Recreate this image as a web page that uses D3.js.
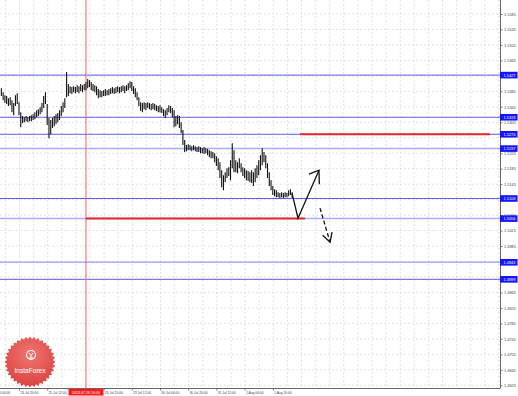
<!DOCTYPE html>
<html>
<head>
<meta charset="utf-8">
<script src="https://cdn.jsdelivr.net/npm/d3@7/dist/d3.min.js"></script>
<style>
  body { margin: 0; background: #fff; }
  svg { display: block; font-family: "Liberation Sans", Arial, sans-serif; }
</style>
</head>
<body>
<script>
// hourly bars, index 0 = 24 Jul 04:00 (first bar drawn is index 6)
const firstBar = 6;
const barHigh = [
  1.5393, 1.5383, 1.5375, 1.5373, 1.5367, 1.5370, 1.5362, 1.5355, 1.5375, 1.5380,
  1.5357, 1.5331, 1.5321, 1.5318, 1.5321, 1.5318, 1.5321, 1.5323, 1.5326, 1.5331,
  1.5336, 1.5339, 1.5344, 1.5355, 1.5373, 1.5383, 1.5352, 1.5316, 1.5311, 1.5316,
  1.5321, 1.5326, 1.5329, 1.5336, 1.5347, 1.5357, 1.5367, 1.5435, 1.5404, 1.5398,
  1.5396, 1.5398, 1.5396, 1.5401, 1.5398, 1.5404, 1.5401, 1.5404, 1.5409, 1.5417,
  1.5414, 1.5409, 1.5404, 1.5401, 1.5398, 1.5391, 1.5388, 1.5386, 1.5388, 1.5391,
  1.5388, 1.5391, 1.5393, 1.5396, 1.5393, 1.5396, 1.5398, 1.5396, 1.5398, 1.5401,
  1.5398, 1.5401, 1.5406, 1.5411, 1.5409, 1.5398, 1.5393, 1.5383, 1.5370, 1.5357,
  1.5355, 1.5357, 1.5355, 1.5357, 1.5355, 1.5352, 1.5355, 1.5352, 1.5349, 1.5347,
  1.5349, 1.5344, 1.5339, 1.5336, 1.5342, 1.5349, 1.5347, 1.5342, 1.5336, 1.5321,
  1.5323, 1.5321, 1.5305, 1.5285, 1.5259, 1.5246, 1.5248, 1.5246, 1.5243, 1.5246,
  1.5243, 1.5241, 1.5243, 1.5241, 1.5238, 1.5241, 1.5238, 1.5236, 1.5233, 1.5230,
  1.5228, 1.5225, 1.5217, 1.5212, 1.5202, 1.5181, 1.5168, 1.5176, 1.5186, 1.5189,
  1.5207, 1.5251, 1.5233, 1.5207, 1.5202, 1.5212, 1.5199, 1.5189, 1.5186, 1.5181,
  1.5179, 1.5176, 1.5181, 1.5176, 1.5186, 1.5194, 1.5207, 1.5220, 1.5238, 1.5228,
  1.5220, 1.5199, 1.5176, 1.5155, 1.5140, 1.5132, 1.5129, 1.5124, 1.5122, 1.5124,
  1.5122, 1.5124, 1.5122, 1.5129, 1.5132, 1.5124
];
const barLow = [
  1.5373, 1.5362, 1.5355, 1.5352, 1.5347, 1.5349, 1.5331, 1.5323, 1.5347, 1.5352,
  1.5323, 1.5292, 1.5303, 1.5305, 1.5308, 1.5305, 1.5308, 1.5308, 1.5311, 1.5313,
  1.5318, 1.5321, 1.5326, 1.5331, 1.5342, 1.5352, 1.5298, 1.5264, 1.5274, 1.5290,
  1.5295, 1.5300, 1.5305, 1.5311, 1.5321, 1.5331, 1.5342, 1.5370, 1.5373, 1.5380,
  1.5378, 1.5383, 1.5380, 1.5383, 1.5380, 1.5386, 1.5383, 1.5388, 1.5388, 1.5393,
  1.5396, 1.5388, 1.5386, 1.5383, 1.5375, 1.5367, 1.5370, 1.5370, 1.5373, 1.5373,
  1.5375, 1.5375, 1.5378, 1.5380, 1.5378, 1.5380, 1.5383, 1.5380, 1.5383, 1.5386,
  1.5380, 1.5386, 1.5388, 1.5393, 1.5386, 1.5378, 1.5370, 1.5362, 1.5347, 1.5334,
  1.5331, 1.5339, 1.5336, 1.5342, 1.5339, 1.5336, 1.5339, 1.5336, 1.5334, 1.5331,
  1.5331, 1.5329, 1.5321, 1.5316, 1.5323, 1.5331, 1.5329, 1.5318, 1.5292, 1.5295,
  1.5300, 1.5290, 1.5277, 1.5246, 1.5228, 1.5230, 1.5233, 1.5233, 1.5230, 1.5233,
  1.5230, 1.5228, 1.5228, 1.5225, 1.5225, 1.5223, 1.5225, 1.5220, 1.5215, 1.5212,
  1.5212, 1.5202, 1.5192, 1.5181, 1.5161, 1.5137, 1.5129, 1.5150, 1.5161, 1.5166,
  1.5155, 1.5186, 1.5176, 1.5176, 1.5173, 1.5186, 1.5176, 1.5166, 1.5161, 1.5155,
  1.5153, 1.5150, 1.5148, 1.5140, 1.5150, 1.5161, 1.5168, 1.5181, 1.5194, 1.5202,
  1.5186, 1.5161, 1.5140, 1.5129, 1.5117, 1.5114, 1.5111, 1.5111, 1.5109, 1.5111,
  1.5109, 1.5111, 1.5111, 1.5114, 1.5117, 1.5109
];

// regular price ticks (ticks hidden under the level tags are left out)
const priceTicks = [
  1.5585, 1.5545, 1.5505, 1.5465, 1.5385, 1.5345, 1.5305, 1.5225,
  1.5185, 1.5145, 1.5065, 1.5025, 1.4985, 1.4905, 1.4865, 1.4825,
  1.4785, 1.4745, 1.4705, 1.4665, 1.4625
];
const gridPrices = [
  1.5585, 1.5545, 1.5505, 1.5465, 1.5425, 1.5385, 1.5345, 1.5305, 1.5265, 1.5225,
  1.5185, 1.5145, 1.5105, 1.5065, 1.5025, 1.4985, 1.4945, 1.4905, 1.4865, 1.4825,
  1.4785, 1.4745, 1.4705, 1.4665, 1.4625
];
const timeTickBars = [0, 16, 32, 64, 80, 96, 112, 128, 144, 160];
const timeTickLabels = [
  '24 Jul 04:00', '24 Jul 20:00', '25 Jul 12:00', '26 Jul 20:00',
  '29 Jul 12:00', '30 Jul 04:00', '30 Jul 20:00', '31 Jul 12:00', '1 Aug 04:00', '1 Aug 20:00'
];

// horizontal levels
const levelPrices = [1.5427, 1.5318, 1.5274, 1.5237, 1.5108, 1.5056, 1.4943, 1.4899];
const levelLight = [false, false, false, true, false, true, true, false];
const levelLabels = ['1.5427', '1.5318', '1.5274', '1.5237', '1.5108', '1.5056', '1.4943', '1.4899'];

const markerBar = 54;
const markerLabel = '2013.07.26 10:00';
const redFrom = [54, 175.4];
const redTo = [178.3, 283.2];
const redPrice = [1.5056, 1.5274];

const upArrow = [[170.9, 1.5122], [174.3, 1.5057], [186.2, 1.5181]];
const upHead = [[180.5, 1.5171], [186.2, 1.5181], [186.4, 1.5145]];
const downArrow = [[186.8, 1.5083], [192.5, 1.4995]];
const downHead = [[188.3, 1.5013], [192.5, 1.4995], [193.6, 1.5021]];

const W = 518, H = 396;
const plotR = 500, plotB = 388;

const svg = d3.select('body').append('svg').attr('width', W).attr('height', H);

const x = d3.scaleLinear().domain([0, 160]).range([-9.2, 272.8]);
const y = d3.scaleLinear().domain([1.4625, 1.5585]).range([385.3, 14]);

svg.append('defs').append('clipPath').attr('id', 'plot')
  .append('rect').attr('x', 0).attr('y', 0).attr('width', plotR).attr('height', plotB);

const plot = svg.append('g').attr('clip-path', 'url(#plot)');

// grid
const gridBars = d3.range(0, 296, 8);
plot.selectAll('.vgrid').data(gridBars).enter().append('line')
  .attr('x1', (d) => x(d) + 0.5).attr('x2', (d) => x(d) + 0.5)
  .attr('y1', 0).attr('y2', plotB)
  .attr('stroke', '#d6d6d6').attr('stroke-width', 0.7).attr('stroke-dasharray', '2,2');
plot.selectAll('.hgrid').data(gridPrices).enter().append('line')
  .attr('x1', 0).attr('x2', plotR)
  .attr('y1', (d) => y(d)).attr('y2', (d) => y(d))
  .attr('stroke', '#d6d6d6').attr('stroke-width', 0.7).attr('stroke-dasharray', '2,2');

// logo badge
const logo = svg.append('g').attr('transform', 'translate(30,362)');
const grad = svg.select('defs').append('radialGradient').attr('id', 'lg')
  .attr('cx', '50%').attr('cy', '35%').attr('r', '65%');
grad.append('stop').attr('offset', '0%').attr('stop-color', '#f06a66');
grad.append('stop').attr('offset', '100%').attr('stop-color', '#d7322f');
const teeth = 36;
const starPts = d3.range(teeth * 2).map((k) => {
  const a = (k / (teeth * 2)) * Math.PI * 2;
  const r = k % 2 === 0 ? 25.5 : 23;
  return [Math.cos(a) * r, Math.sin(a) * r];
});
logo.append('polygon').attr('points', starPts.map((p) => p.join(',')).join(' '))
  .attr('fill', 'url(#lg)').attr('opacity', 0.92);
logo.append('circle').attr('cx', 1).attr('cy', -7).attr('r', 4.5)
  .attr('fill', 'none').attr('stroke', '#fff').attr('stroke-width', 1.1);
logo.append('path').attr('d', 'M-1,-9 L1,-6.5 L3,-9 M1,-6.5 L1,-3.5 M-1.5,-4 L3.5,-4')
  .attr('stroke', '#fff').attr('stroke-width', 1).attr('fill', 'none');
logo.append('text').attr('x', 0).attr('y', 11).attr('text-anchor', 'middle')
  .attr('fill', '#fff').style('font-size', '6.6px').text('InstaForex');

// level lines
plot.selectAll('.level').data(levelPrices).enter().append('line')
  .attr('x1', 0).attr('x2', plotR)
  .attr('y1', (d) => y(d)).attr('y2', (d) => y(d))
  .attr('stroke', (d, i) => (levelLight[i] ? '#a9acff' : '#5b5bf0'))
  .attr('stroke-width', (d, i) => (levelLight[i] ? 1.5 : 1));

// red vertical marker
plot.append('line')
  .attr('x1', x(markerBar)).attr('x2', x(markerBar))
  .attr('y1', 0).attr('y2', plotB)
  .attr('stroke', '#ff5a5a').attr('stroke-width', 1);

// red horizontal segments
plot.selectAll('.red').data(redPrice).enter().append('line')
  .attr('x1', (d, i) => x(redFrom[i])).attr('x2', (d, i) => x(redTo[i]))
  .attr('y1', (d) => y(d)).attr('y2', (d) => y(d))
  .attr('stroke', '#e8262a').attr('stroke-width', 2);

// bars
plot.selectAll('.bar').data(barHigh).enter().append('line')
  .attr('x1', (d, i) => x(firstBar + i)).attr('x2', (d, i) => x(firstBar + i))
  .attr('y1', (d) => y(d)).attr('y2', (d, i) => y(barLow[i]))
  .attr('stroke', '#111').attr('stroke-width', 1.1);

// arrows
const line = d3.line().x((d) => x(d[0])).y((d) => y(d[1]));
plot.append('path').attr('d', line(upArrow))
  .attr('fill', 'none').attr('stroke', '#111').attr('stroke-width', 1.3);
plot.append('path').attr('d', line(upHead))
  .attr('fill', 'none').attr('stroke', '#111').attr('stroke-width', 1.3);
plot.append('path').attr('d', line(downArrow))
  .attr('fill', 'none').attr('stroke', '#111').attr('stroke-width', 1.3)
  .attr('stroke-dasharray', '4,2.5');
plot.append('path').attr('d', line(downHead))
  .attr('fill', 'none').attr('stroke', '#111').attr('stroke-width', 1.3);

// frame
svg.append('line').attr('x1', plotR + 0.5).attr('x2', plotR + 0.5).attr('y1', 0).attr('y2', plotB)
  .attr('stroke', '#666').attr('stroke-width', 1);
svg.append('line').attr('x1', 0).attr('x2', plotR + 0.5).attr('y1', plotB + 0.5).attr('y2', plotB + 0.5)
  .attr('stroke', '#666').attr('stroke-width', 1);

// right price axis
const yAxis = d3.axisRight(y).tickValues(priceTicks).tickSize(2).tickPadding(1.5)
  .tickFormat(d3.format('.4f'));
const ya = svg.append('g').attr('transform', `translate(${plotR + 0.5},0)`).call(yAxis);
ya.select('.domain').remove();
ya.selectAll('line').attr('stroke', '#777');
ya.selectAll('text').attr('fill', '#444').style('font-size', '3.9px');

// highlighted level labels
const tags = svg.selectAll('.tag').data(levelPrices).enter().append('g')
  .attr('transform', (d) => `translate(${plotR},${y(d)})`);
tags.append('rect').attr('x', 0).attr('y', -3.3).attr('width', 17.5).attr('height', 6.6)
  .attr('fill', '#1414ff');
tags.append('text').attr('x', 3.5).attr('y', 1.4)
  .attr('fill', '#fff').style('font-size', '3.9px')
  .text((d, i) => levelLabels[i]);

// bottom time axis
const xAxis = d3.axisBottom(x).tickValues(timeTickBars).tickSize(2).tickPadding(1)
  .tickFormat((d, i) => timeTickLabels[i]);
const xa = svg.append('g').attr('transform', `translate(0,${plotB + 0.5})`).call(xAxis);
xa.select('.domain').remove();
xa.selectAll('line').attr('stroke', '#777');
xa.selectAll('text').attr('fill', '#444').attr('text-anchor', 'start').attr('dx', '0.8')
  .style('font-size', '3.3px');

// red marker label on the time axis
const mk = svg.append('g').attr('transform', `translate(${x(markerBar)},${plotB})`);
mk.append('rect').attr('x', -17.5).attr('y', 1).attr('width', 35).attr('height', 6.5)
  .attr('fill', '#ff1a1a');
mk.append('text').attr('x', 0).attr('y', 5.6).attr('text-anchor', 'middle')
  .attr('fill', '#fff').style('font-size', '3.6px').text(markerLabel);
</script>
</body>
</html>
